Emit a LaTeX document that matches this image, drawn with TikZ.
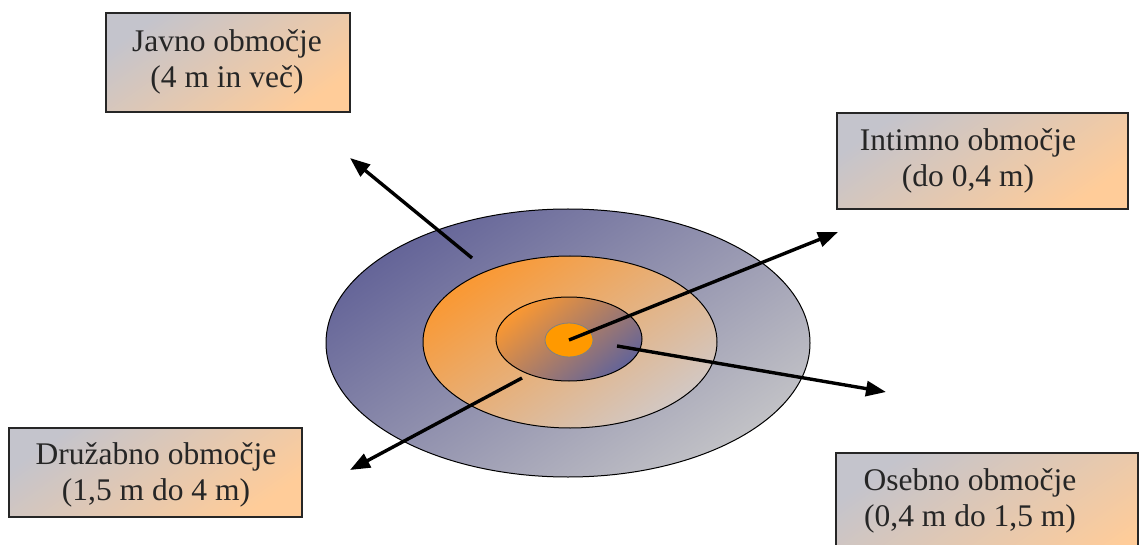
\documentclass[tikz,border=0pt]{standalone}
\usepackage{fontspec}
\setmainfont{Liberation Serif}
\usetikzlibrary{arrows.meta,shapes.geometric}
\definecolor{boxgrey}{RGB}{196,196,204}
\definecolor{boxorange}{RGB}{255,204,153}
\definecolor{zpurple}{RGB}{100,100,152}
\definecolor{zgrey}{RGB}{194,194,198}
\definecolor{zorange}{RGB}{250,152,50}
\definecolor{zpale}{RGB}{210,200,196}
\definecolor{zcore}{RGB}{255,153,0}
\begin{document}
\begin{tikzpicture}[x=1pt,y=-1pt,
  zonebox/.style={draw=black!85, line width=1.2pt, shading=axis, top color=boxgrey, bottom color=boxorange, shading angle=35, inner sep=0pt},
  zonetext/.style={font=\fontsize{31.5}{36}\selectfont, align=center, text=black!85},
  ring/.style={ellipse, draw=black, line width=1pt, inner sep=0pt},
  ray/.style={line width=3.4pt, -{Triangle[length=20pt,width=15pt]}}]
\useasboundingbox (0,0) rectangle (1140,545);
\clip (0,0) rectangle (1140,545);
% boxes
\node[zonebox, minimum width=244pt, minimum height=99pt] (javnoBox) at (228,62.5) {};
\node[zonetext] (javno) at (227,62) {Javno območje\\(4 m in več)};
\node[zonebox, minimum width=291pt, minimum height=96pt] (intimnoBox) at (982.5,161) {};
\node[zonetext] (intimno) at (968,161) {Intimno območje\\(do 0,4 m)};
\node[zonebox, minimum width=293pt, minimum height=89pt] (druzabnoBox) at (155.5,472.5) {};
\node[zonetext] (druzabno) at (156,475) {Družabno območje\\(1,5 m do 4 m)};
\node[zonebox, minimum width=302pt, minimum height=130pt] (osebnoBox) at (987,518) {};
\node[zonetext] (osebno) at (970,501) {Osebno območje\\(0,4 m do 1,5 m)};
% rings
\node[ring, minimum width=484pt, minimum height=268pt, shading=axis, top color=zpurple, bottom color=zgrey, shading angle=35] (outer) at (568,343) {};
\node[ring, minimum width=294pt, minimum height=172pt, shading=axis, top color=zorange, bottom color=zpale, shading angle=35] (middle) at (570,342) {};
\node[ring, minimum width=146pt, minimum height=84pt, shading=axis, top color=zorange, bottom color=zpurple, shading angle=40] (inner) at (569,339) {};
\node[ellipse, draw=gray, line width=0.8pt, fill=zcore, minimum width=48pt, minimum height=34pt, inner sep=0pt] (core) at (569,340) {};
% arrows
\coordinate (javnoStart) at (472,258);
\coordinate (javnoTip) at (350,158);
\coordinate (intimnoTip) at (838,232);
\coordinate (osebnoStart) at (617,346);
\coordinate (osebnoTip) at (886,392);
\coordinate (druzabnoStart) at (522,378);
\coordinate (druzabnoTip) at (350,470);
\draw[ray] (javnoStart) -- (javnoTip);
\draw[ray] (core.center) -- (intimnoTip);
\draw[ray] (osebnoStart) -- (osebnoTip);
\draw[ray] (druzabnoStart) -- (druzabnoTip);
\end{tikzpicture}
\end{document}
